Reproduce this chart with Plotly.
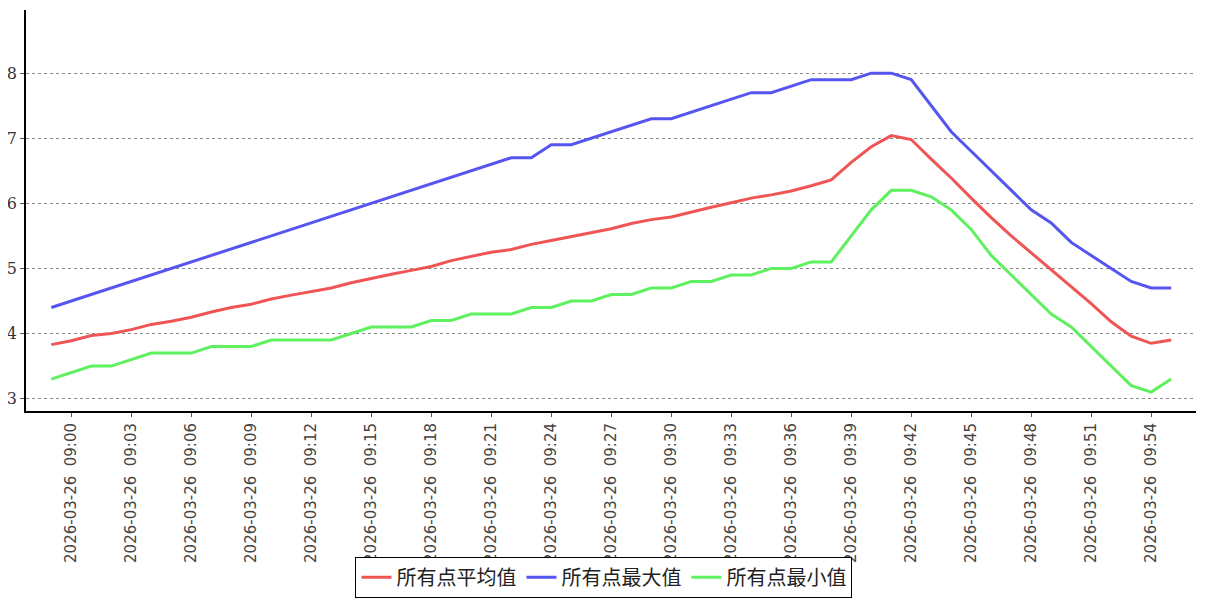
import plotly.graph_objects as go

times = ["2026-03-26 08:%02d" % 59] + ["2026-03-26 09:%02d" % m for m in range(0, 56)]

avg_vals = [3.83, 3.89, 3.97, 4.00, 4.06, 4.14, 4.19, 4.25, 4.33, 4.40,
            4.45, 4.53, 4.59, 4.65, 4.70, 4.78, 4.85, 4.91, 4.97, 5.03,
            5.12, 5.19, 5.25, 5.29, 5.37, 5.43, 5.49, 5.54, 5.61, 5.69,
            5.75, 5.79, 5.87, 5.94, 6.01, 6.08, 6.13, 6.19, 6.27, 6.36,
            6.63, 6.87, 7.04, 6.98, 6.68, 6.39, 6.08, 5.78, 5.50, 5.24,
            4.99, 4.73, 4.46, 4.18, 3.96, 3.85, 3.90]

max_vals = [4.4, 4.5, 4.6, 4.7, 4.8, 4.9, 5.0, 5.1, 5.2, 5.3,
            5.4, 5.5, 5.6, 5.7, 5.8, 5.9, 6.0, 6.1, 6.2, 6.3,
            6.4, 6.5, 6.6, 6.7, 6.7, 6.9, 6.9, 7.0, 7.1, 7.2,
            7.3, 7.3, 7.4, 7.5, 7.6, 7.7, 7.7, 7.8, 7.9, 7.9,
            7.9, 8.0, 8.0, 7.9, 7.5, 7.1, 6.8, 6.5, 6.2, 5.9,
            5.7, 5.4, 5.2, 5.0, 4.8, 4.7, 4.7]

min_vals = [3.3, 3.4, 3.5, 3.5, 3.6, 3.7, 3.7, 3.7, 3.8, 3.8,
            3.8, 3.9, 3.9, 3.9, 3.9, 4.0, 4.1, 4.1, 4.1, 4.2,
            4.2, 4.3, 4.3, 4.3, 4.4, 4.4, 4.5, 4.5, 4.6, 4.6,
            4.7, 4.7, 4.8, 4.8, 4.9, 4.9, 5.0, 5.0, 5.1, 5.1,
            5.5, 5.9, 6.2, 6.2, 6.1, 5.9, 5.6, 5.2, 4.9, 4.6,
            4.3, 4.1, 3.8, 3.5, 3.2, 3.1, 3.3]

series_names = ["所有点平均值", "所有点最大值", "所有点最小值"]
series_colors = ["rgb(240,85,85)", "rgb(85,85,240)", "rgb(95,240,95)"]

tick_vals = ["2026-03-26 09:%02d" % m for m in range(0, 55, 3)]
tick_text = [t.replace(" ", "\u00a0\u00a0") for t in tick_vals]
y_ticks = [3, 4, 5, 6, 7, 8]

fig = go.Figure()
for name, vals, col in zip(series_names, [avg_vals, max_vals, min_vals], series_colors):
    fig.add_trace(go.Scatter(x=times, y=vals, mode="lines", name=name,
                             line=dict(color=col, width=3)))

# page body has an 8px default margin: compensate so the plot lands where the reference has it
fig.update_layout(
    width=1199, height=592,
    margin=dict(l=18, r=11, t=2, b=189, autoexpand=False),
    paper_bgcolor="white", plot_bgcolor="white",
    showlegend=True,
    legend=dict(orientation="h", x=0.494, xanchor="center", y=-0.466, yanchor="bottom",
                bordercolor="black", borderwidth=1, bgcolor="white",
                font=dict(family="Noto Sans CJK SC", size=20, color="#222"),
                itemwidth=30, tracegroupgap=0),
)
fig.update_xaxes(type="category", range=[-1.265, 57.24], automargin=False,
                 tickmode="array", tickvals=tick_vals, ticktext=tick_text,
                 tickangle=-90, ticks="outside", ticklen=4, tickcolor="#555",
                 tickfont=dict(family="DejaVu Sans", size=15, color="#444"),
                 showline=True, linecolor="black", linewidth=2,
                 showgrid=False, zeroline=False)
fig.update_yaxes(range=[2.81, 8.97], automargin=False,
                 tickmode="array", tickvals=y_ticks,
                 ticks="outside", ticklen=4, tickcolor="#555",
                 tickfont=dict(family="DejaVu Serif", size=16, color="#333"),
                 showline=True, linecolor="black", linewidth=2,
                 showgrid=True, gridcolor="#888", griddash="dot", gridwidth=1,
                 zeroline=False)

fig.write_html("out.html")
